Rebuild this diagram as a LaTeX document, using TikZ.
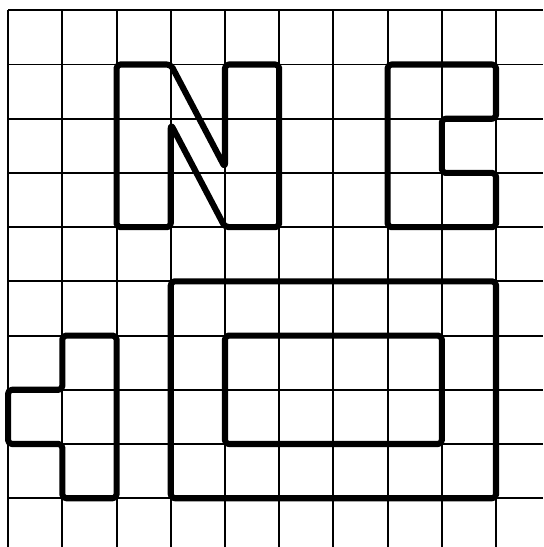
\documentclass[tikz,border=0pt]{standalone}
\usetikzlibrary{shapes,arrows}
\begin{document}
\begin{tikzpicture}[yscale=-1,
  gridline/.style={line width=1pt},
  outline/.style={line width=3.2pt,line join=round,rounded corners=2pt}]
\useasboundingbox (-0.15,-0.19) rectangle (9.87,9.9);
% squared paper
\foreach \i in {0,...,9} {
  \draw[gridline] (\i,0) -- (\i,9.9);
  \draw[gridline] (0,\i) -- (9.87,\i);
}
% letter N
\draw[outline] (2,1) -- (3,1) -- (4,2.9) -- (4,1) -- (5,1) -- (5,4) -- (4,4)
  -- (3,2.1) -- (3,4) -- (2,4) -- cycle;
% letter C
\draw[outline] (7,1) -- (9,1) -- (9,2) -- (8,2) -- (8,3) -- (9,3) -- (9,4)
  -- (7,4) -- cycle;
% small piece on the left
\draw[outline] (1,6) -- (2,6) -- (2,9) -- (1,9) -- (1,8) -- (0,8) -- (0,7)
  -- (1,7) -- cycle;
% frame and window
\draw[outline] (3,5) rectangle (9,9);
\draw[outline] (4,6) rectangle (8,8);
\end{tikzpicture}
\end{document}
